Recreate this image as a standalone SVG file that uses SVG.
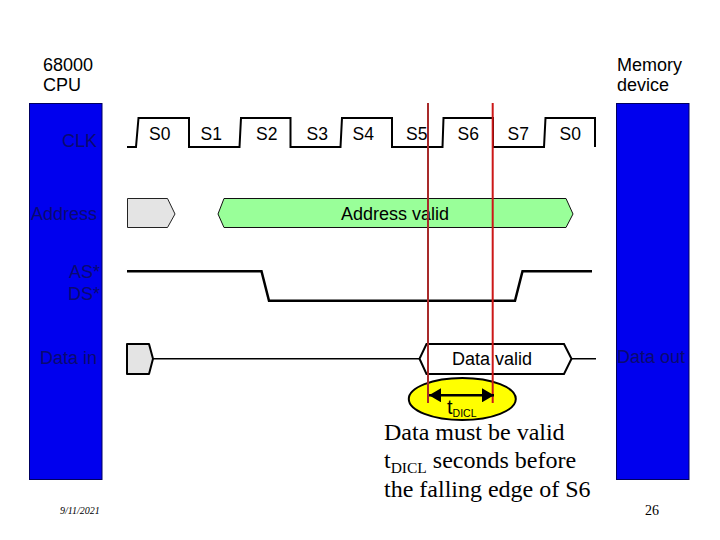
<svg xmlns="http://www.w3.org/2000/svg" width="720" height="540" viewBox="0 0 720 540">
<defs>
<marker id="ah" markerUnits="userSpaceOnUse" markerWidth="13" markerHeight="14" refX="12" refY="7" orient="auto-start-reverse"><path d="M0 0L12 7L0 14Z" fill="#000"/></marker>
</defs>
<style>
.a{font-family:"Liberation Sans",Arial,sans-serif;font-size:18px;fill:#000}
.s{font-family:"Liberation Sans",Arial,sans-serif;font-size:17.5px;fill:#000}
.b{font-family:"Liberation Sans",Arial,sans-serif;font-size:18px;fill:#0a0a70}
.t{font-family:"Liberation Serif","Times New Roman",serif;font-size:24px;fill:#000}
.sub{font-size:15.5px}
.sig{fill:none;stroke:#000}
.blue{fill:#0000ee;stroke:#000060;stroke-width:1}
</style>
<rect width="720" height="540" fill="#fff"/>
<g id="cpu">
<rect class="blue" x="29.5" y="103.5" width="72.5" height="376"/>
<text class="a" x="43" y="71">68000</text>
<text class="a" x="43" y="91">CPU</text>
<text class="b" x="97" y="147" text-anchor="end">CLK</text>
<text class="b" x="97" y="220" text-anchor="end">Address</text>
<text class="b" x="100" y="278" text-anchor="end">AS*</text>
<text class="b" x="100" y="299.500" text-anchor="end">DS*</text>
<text class="b" x="97" y="364" text-anchor="end">Data in</text>
</g>
<g id="memory">
<rect class="blue" x="616.5" y="103.500" width="72.500" height="376"/>
<text class="a" x="617" y="71">Memory</text>
<text class="a" x="617" y="91">device</text>
<text class="b" x="617" y="363">Data out</text>
</g>
<g id="clk">
<path class="sig" stroke-width="2" d="M127 147H136L138.500 118H189V147H239.500L241 118H290.500V147H340.500L342 118H392V147H442.500L443.500 118H493V147H544L545.500 118H595V147"/>
<text class="s" x="149" y="140">S0</text>
<text class="s" x="200.500" y="140">S1</text>
<text class="s" x="256" y="140">S2</text>
<text class="s" x="306.500" y="140">S3</text>
<text class="s" x="352.500" y="140">S4</text>
<text class="s" x="406" y="140">S5</text>
<text class="s" x="457.500" y="140">S6</text>
<text class="s" x="507.500" y="140">S7</text>
<text class="s" x="559.500" y="140">S0</text>
</g>
<g id="address">
<path d="M127.500 198.500H167.500L175 214L167.500 227.500H127.500Z" fill="#e4e4e4" stroke="#222" stroke-width="1"/>
<path d="M224 198.500H566L573 214L566 227.500H224L218 214Z" fill="#99ff99" stroke="#111" stroke-width="1"/>
<text class="a" x="341" y="220">Address valid</text>
</g>
<g id="strobes">
<path class="sig" stroke-width="2.500" d="M127 271.300H261.500L269 300.700H515L522.500 271.300H592"/>
</g>
<g id="data">
<path class="sig" stroke-width="1.500" d="M153 358.700H419.500M571.500 358.700H596"/>
<path d="M127 344H149L153 358.700L149 374H127Z" fill="#e4e4e4" stroke="#000" stroke-width="2" stroke-linejoin="round"/>
<path d="M426.500 344H564L571.500 358.700L564 374H426.500L419.500 358.700Z" fill="#fff" stroke="#000" stroke-width="2"/>
<text class="a" x="452" y="365">Data valid</text>
</g>
<g id="tdicl">
<ellipse cx="462.300" cy="399" rx="53.500" ry="21" fill="#ffff00" stroke="#000" stroke-width="2"/>
<text class="a" x="447" y="414" font-size="20" style="font-size:20px">t<tspan style="font-size:10.5px" dy="2.700">DICL</tspan></text>
</g>
<g id="connectors">
<line x1="428" y1="103" x2="428" y2="403" stroke="#a82a2a" stroke-width="2"/>
<line x1="492.700" y1="103" x2="492.700" y2="403" stroke="#cc1818" stroke-width="2"/>
<line x1="429" y1="395.300" x2="494" y2="395.300" stroke="#000" stroke-width="2.500" marker-start="url(#ah)" marker-end="url(#ah)"/>
</g>
<g id="note">
<text class="t" x="384" y="440">Data must be valid</text>
<text class="t" x="384" y="468">t<tspan class="sub" dy="5">DICL</tspan><tspan dy="-5"> seconds before</tspan></text>
<text class="t" x="384" y="497">the falling edge of S6</text>
</g>
<g id="footer">
<text x="60" y="514" font-family="Liberation Serif,serif" font-style="italic" font-size="10" fill="#000">9/11/2021</text>
<text x="645" y="515" font-family="Liberation Serif,serif" font-size="14" fill="#000">26</text>
</g>
</svg>
